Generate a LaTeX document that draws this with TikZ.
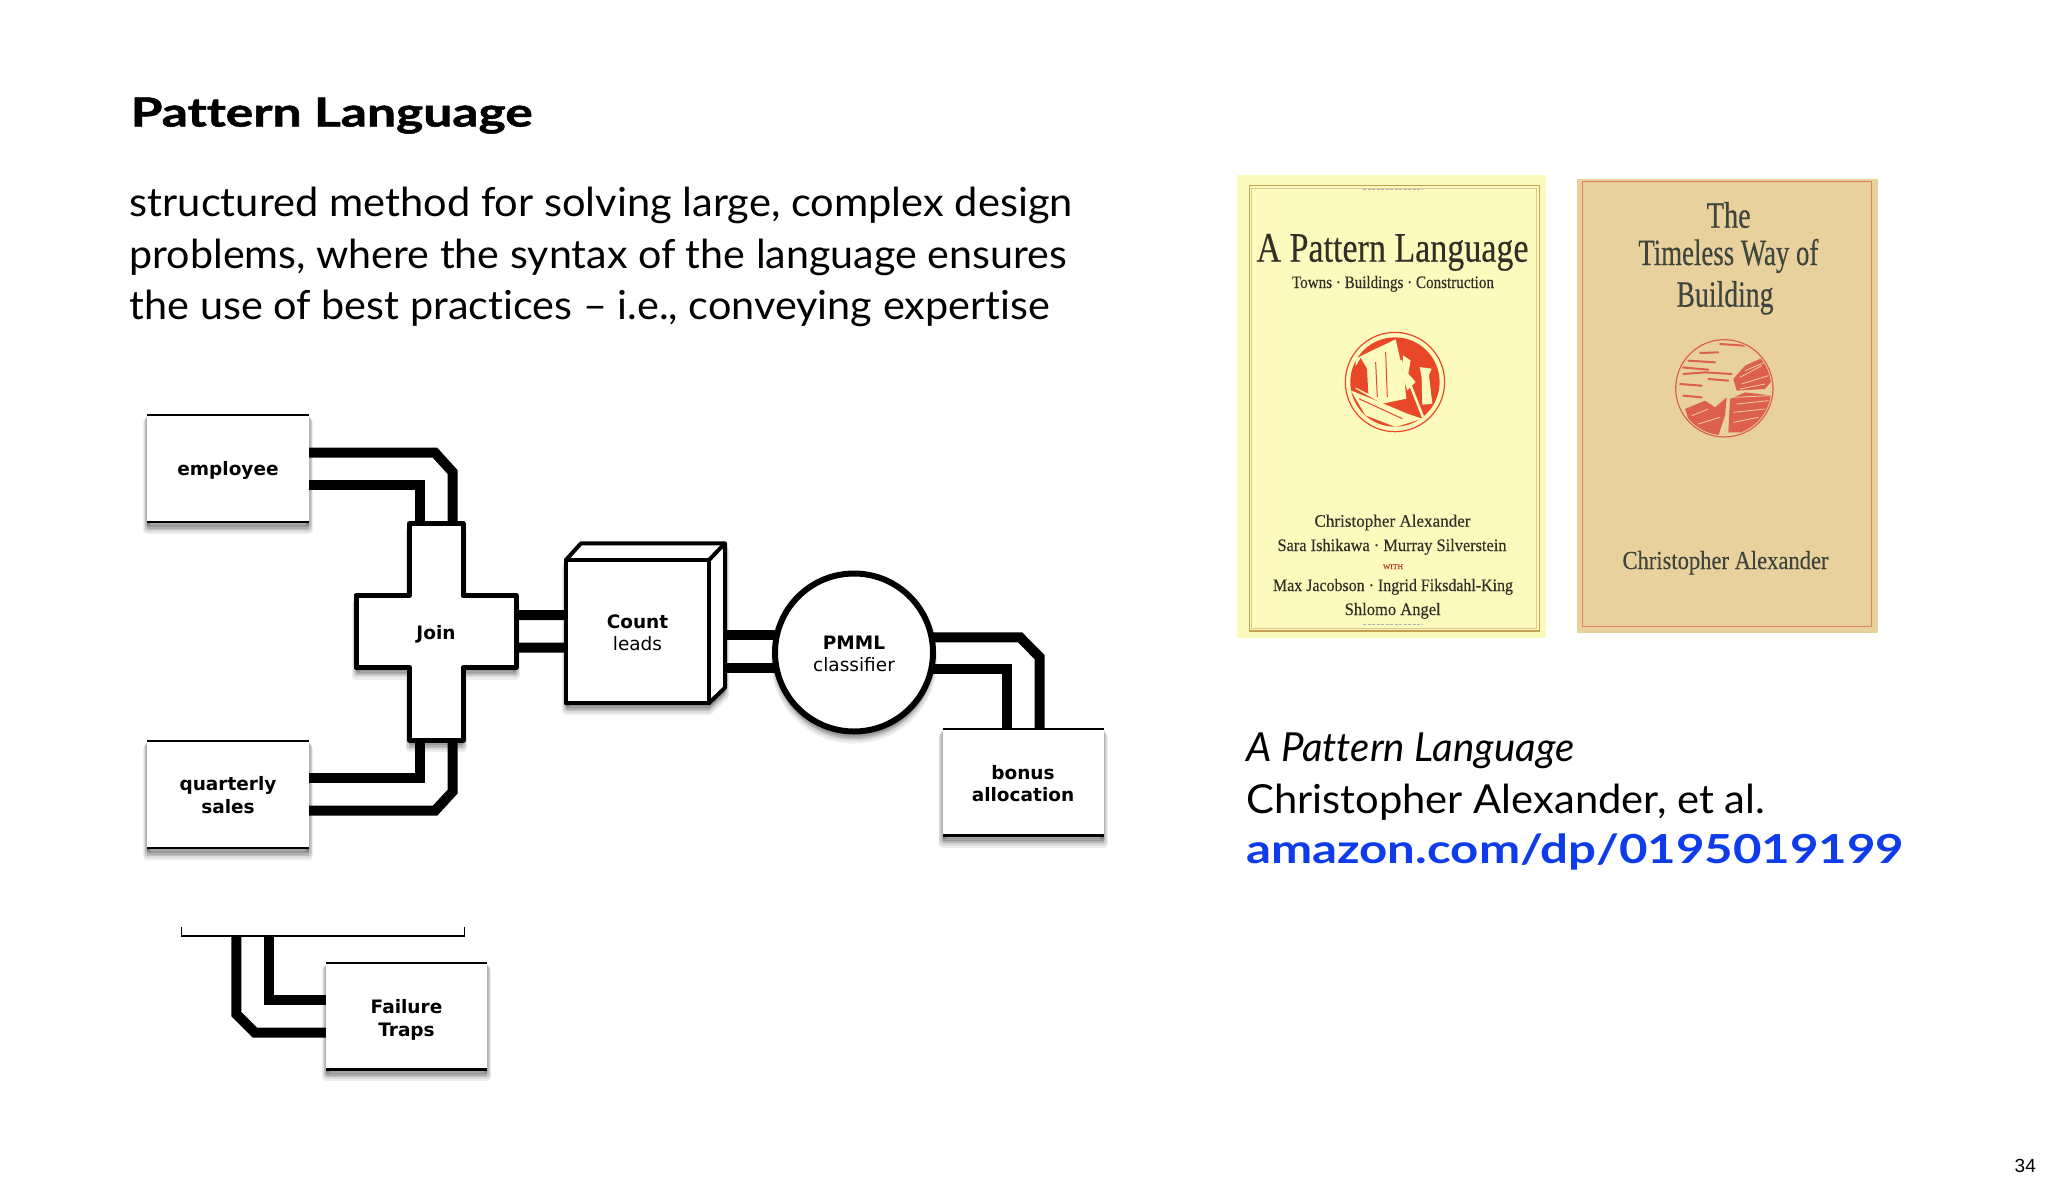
\documentclass[tikz,border=0pt]{standalone}
\usepackage{fontspec}
\setmainfont{Lato}[Ligatures={NoCommon}]
\newfontfamily\heavyfont{Lato}[Ligatures={NoCommon},BoldFeatures={FakeBold=1.2}]
\newfontfamily\boxfont{DejaVu Sans}
\newfontfamily\coverfont{Liberation Serif}[FakeBold=.4]
\newfontfamily\pagefont{Liberation Sans}
\usetikzlibrary{backgrounds}
\definecolor{linkblue}{RGB}{15,60,235}
\definecolor{bookyellow}{RGB}{253,250,190}
\definecolor{booktan}{RGB}{233,209,158}
\definecolor{ochreline}{RGB}{200,160,80}
\definecolor{tanline}{RGB}{222,130,95}
\definecolor{emblemred}{RGB}{232,72,40}
\definecolor{emblemrose}{RGB}{221,95,80}
\definecolor{coverink}{RGB}{50,48,38}
\definecolor{tanink}{RGB}{60,70,60}
\newcommand{\fitw}[2]{\resizebox{#1pt}{\height}{#2}}
\newcommand{\slidesize}{\fontsize{40}{48}\selectfont}
\tikzset{
	shadowlayer/.style={preaction={draw=black,fill=black,line width=#1pt,opacity=.07,transform canvas={yshift=-#1pt}}},
	softshadow/.style={shadowlayer=8,shadowlayer=6.5,shadowlayer=5,shadowlayer=3.5,shadowlayer=2},
	boxnode/.style={fill=white,softshadow,inner sep=0,outer sep=0,align=center,font=\boxfont\fontsize{18.5}{22.4}\selectfont\bfseries},
	pipe/.style={line width=10pt,line join=miter,black},
	heavy/.style={line width=5pt,line join=round},
	slidetext/.style={anchor=base west,inner sep=0},
	covertext/.style={anchor=base,inner sep=0,text=coverink},
	tantext/.style={anchor=base,inner sep=0,text=tanink}
}
\begin{document}
\begin{tikzpicture}[x=1pt,y=-1pt,line join=round]
	\useasboundingbox (0,0) rectangle (2048,1184);
	%Text
	\node[slidetext] (title) at (130.5,126.5) {\fitw{402}{\heavyfont\bfseries\slidesize Pattern Language}};
	\node[slidetext] (lineone) at (129.5,216.3) {\fitw{943}{\slidesize structured method for solving large, complex design}};
	\node[slidetext] (linetwo) at (129.5,268) {\fitw{937}{\slidesize problems, where the syntax of the language ensures}};
	\node[slidetext] (linethree) at (129.5,319) {\fitw{920}{\slidesize the use of best practices – i.e., conveying expertise}};
	\node[slidetext] (bookname) at (1246,761.3) {\fitw{328}{\slidesize\itshape A Pattern Language}};
	\node[slidetext] (bookauthor) at (1246,813) {\fitw{519}{\slidesize Christopher Alexander, et al.}};
	\node[slidetext,text=linkblue] (booklink) at (1246,863.6) {\fitw{658}{\slidesize\bfseries amazon.com/dp/0195019199}};
	\node[anchor=base east,inner sep=0] (pagenum) at (2036,1172.7) {\pagefont\fontsize{19}{19}\selectfont 34};
	%Boxes
	\node[boxnode,minimum width=162pt,minimum height=107pt,text height=19pt,text depth=4.4pt] (employee) at (228,468.5) {employee};
	\node[boxnode,minimum width=162pt,minimum height=107pt] (sales) at (228,794.5) {\rule{0pt}{15.2pt}quarterly\\sales};
	\node[boxnode,minimum width=161pt,minimum height=106.5pt] (bonus) at (1023,782.5) {\rule{0pt}{16.6pt}bonus\\allocation};
	\node[boxnode,minimum width=161pt,minimum height=106.5pt] (traps) at (406.5,1016) {\rule{0pt}{21.5pt}Failure\\Traps};
	\foreach \b in {employee,sales,bonus,traps} {
		\draw[line width=1.8pt] (\b.north west)--(\b.north east);
		\draw[line width=2.6pt] (\b.south west)--(\b.south east);
	}
	%Join
	\draw[heavy,fill=white,softshadow] (409.5,523.5)--(463,523.5)--(463,595.5)--(516,595.5)--(516,667.5)--(463,667.5)--(463,740)--(409.5,740)--(409.5,667.5)--(356,667.5)--(356,595.5)--(409.5,595.5)--cycle;
	\node[inner sep=0,outer sep=0,minimum width=160pt,minimum height=216.5pt,text height=19pt,text depth=4pt,font=\boxfont\fontsize{18.5}{22.4}\selectfont\bfseries] (join) at (436,631.75) {Join};
	%Count
	\draw[line width=4pt,fill=white,softshadow] (566,560)--(581,543.3)--(725,543.3)--(725,687.7)--(709,703)--(566,703)--cycle;
	\node[draw,line width=4.5pt,fill=white,inner sep=0,outer sep=0,minimum size=143pt,align=center,font=\boxfont\fontsize{18.5}{22.4}\selectfont] (count) at (637.5,631.5) {\rule{0pt}{16.2pt}\textbf{Count}\\leads};
	\draw[line width=4pt] (count.north east)--++(16,-16.7);
	%PMML
	\node[boxnode,circle,draw,line width=6pt,minimum size=158pt,font=\boxfont\fontsize{18.5}{22.4}\selectfont] (pmml) at (854,652.5) {\rule{0pt}{16.2pt}\textbf{PMML}\\classifier};
	%Bracket
	\node[inner sep=0,outer sep=0,minimum width=283pt,minimum height=0pt] (bar) at (322.8,935.7) {};
	\draw[line width=1.6pt,line join=miter] (bar.west)++(0,-8.4)--(bar.west)--(bar.east)--++(0,-8.4);
	%Pipes
	\begin{scope}[on background layer]
		\draw[pipe] ([yshift=15.8pt]employee.east)--++(126,0)--++(17.5,19.3)--([xshift=16.5pt]join.north);
		\draw[pipe] ([yshift=-16.5pt]employee.east)-|([xshift=-16pt]join.north);
		\draw[pipe] ([yshift=16.8pt]sales.east)-|([xshift=-16pt]join.south);
		\draw[pipe] ([yshift=-16.2pt]sales.east)--++(126,0)--++(17.5,-19)--([xshift=16.5pt]join.south);
		\draw[pipe] ([yshift=16.5pt]join.east)--([yshift=16.5pt]count.west);
		\draw[pipe] ([yshift=-16pt]join.east)--([yshift=-16pt]count.west);
		\draw[pipe] ([yshift=-3.5pt]count.east)--([yshift=17.5pt]pmml.west);
		\draw[pipe] ([yshift=-36.2pt]count.east)--([yshift=-15.2pt]pmml.west);
		\draw[pipe] ([yshift=15.2pt]pmml.east)--++(87,0)--++(19.5,19.7)--([xshift=16.5pt]bonus.north);
		\draw[pipe] ([yshift=-16.8pt]pmml.east)-|([xshift=-16pt]bonus.north);
		\draw[pipe] ([xshift=-86.5pt]bar.center)--++(0,78.3)--++(18.7,18.7)--([yshift=-16.7pt]traps.west);
		\draw[pipe] ([xshift=-53.8pt]bar.center)|-([yshift=16pt]traps.west);
	\end{scope}
	%First book
	\fill[bookyellow] (1236.7,175) rectangle (1546,638);
	\draw[ochreline,line width=1.3pt] (1249.3,185.7) rectangle (1539.3,631);
	\draw[ochreline!60,line width=.8pt] (1251.8,188.2) rectangle (1536.8,628.5);
	\draw[gray!60,line width=1.2pt,dash pattern=on 3pt off 1.5pt] (1363,189.5)--(1423,189.5) (1363,624.5)--(1423,624.5);
	\node[covertext] (bookonetitle) at (1392.5,261.7) {\fitw{272}{\coverfont\fontsize{42}{42}\selectfont A Pattern Language}};
	\node[covertext] (bookonesub) at (1393,288) {\fitw{202}{\coverfont\fontsize{17.5}{17.5}\selectfont Towns · Buildings · Construction}};
	\node[covertext] (authorone) at (1392.5,526.7) {\fitw{156}{\coverfont\fontsize{17.5}{17.5}\selectfont Christopher Alexander}};
	\node[covertext] (authortwo) at (1392,551) {\fitw{229}{\coverfont\fontsize{17.5}{17.5}\selectfont Sara Ishikawa · Murray Silverstein}};
	\node[covertext,text=emblemred!70!coverink] (authorwith) at (1393,569) {\fitw{20}{\coverfont\fontsize{7}{7}\selectfont WITH}};
	\node[covertext] (authorthree) at (1393,591) {\fitw{240}{\coverfont\fontsize{17.5}{17.5}\selectfont Max Jacobson · Ingrid Fiksdahl-King}};
	\node[covertext] (authorfour) at (1392.7,615) {\fitw{96}{\coverfont\fontsize{17.5}{17.5}\selectfont Shlomo Angel}};
	%Emblem of the first book
	\begin{scope}[shift={(1332.3,318.7)},x=.3333pt,y=-.3333pt]
		\draw[emblemred,line width=1.2pt] (188,190) circle (149);
		\fill[emblemred] (188,190) circle (134);
		\begin{scope}
			\clip (188,190) circle (134);
			\fill[bookyellow] (70,120)--(110,100)--(190,62)--(215,170)--(222,240)--(150,255)--(70,210)--cycle;
			\fill[emblemred] (68,205)--(66,150)--(85,118)--(104,150)--(108,225)--cycle;
			\fill[bookyellow] (55,215)--(130,245)--(225,285)--(270,300)--(190,325)--(100,290)--cycle;
			\draw[bookyellow,line width=2.5pt] (205,125)--(272,295) (230,125)--(195,235);
			\fill[bookyellow] (262,145)--(298,150)--(290,170)--(300,255)--(270,258)--(268,175)--cycle;
			\fill[bookyellow] (212,110)--(235,125)--(228,165)--(250,190)--(225,215)--(210,170)--cycle;
			\draw[emblemred,line width=1pt] (130,130)--(135,235) (160,100)--(165,235) (80,240)--(210,300);
		\end{scope}
	\end{scope}
	%Second book
	\fill[booktan] (1577.3,179) rectangle (1878.3,633.3);
	\draw[tanline,line width=1.2pt] (1582.7,181.7) rectangle (1871.7,626.7);
	\node[tantext] (booktwoa) at (1728.7,227.7) {\fitw{44}{\coverfont\fontsize{37}{37}\selectfont The}};
	\node[tantext] (booktwob) at (1728.3,265) {\fitw{180}{\coverfont\fontsize{37}{37}\selectfont Timeless Way of}};
	\node[tantext] (booktwoc) at (1725,306.7) {\fitw{97}{\coverfont\fontsize{37}{37}\selectfont Building}};
	\node[tantext] (booktwoauthor) at (1725.5,569) {\fitw{206}{\coverfont\fontsize{26}{26}\selectfont Christopher Alexander}};
	%Emblem of the second book
	\begin{scope}[shift={(1665,329)},x=.3333pt,y=-.3333pt]
		\draw[emblemrose,line width=1.2pt] (178,178) circle (146);
		\begin{scope}
			\clip (178,178) circle (141);
			\draw[emblemrose,line width=2pt,line cap=round] (105,72)--(160,70) (165,45)--(240,50) (50,115)--(130,122) (55,135)--(120,130) (45,165)--(110,170) (120,130)--(200,135) (55,200)--(110,205) (70,95)--(150,100) (130,150)--(190,155);
			\fill[emblemrose] (205,150)--(240,110)--(295,85)--(325,150)--(300,180)--(215,185)--cycle;
			\fill[emblemrose] (195,210)--(240,190)--(325,200)--(310,270)--(250,310)--(190,310)--cycle;
			\fill[emblemrose] (60,240)--(120,215)--(150,235)--(185,205)--(180,260)--(160,320)--(110,310)--(70,270)--cycle;
			\draw[booktan,line width=.8pt] (225,145)--(290,110) (230,165)--(310,140) (240,125)--(300,100) (215,225)--(310,215) (205,250)--(300,240) (205,280)--(280,265) (80,260)--(130,240) (100,285)--(165,265) (225,180)--(300,165) (205,205)--(315,200);
		\end{scope}
	\end{scope}
\end{tikzpicture}
\end{document}
